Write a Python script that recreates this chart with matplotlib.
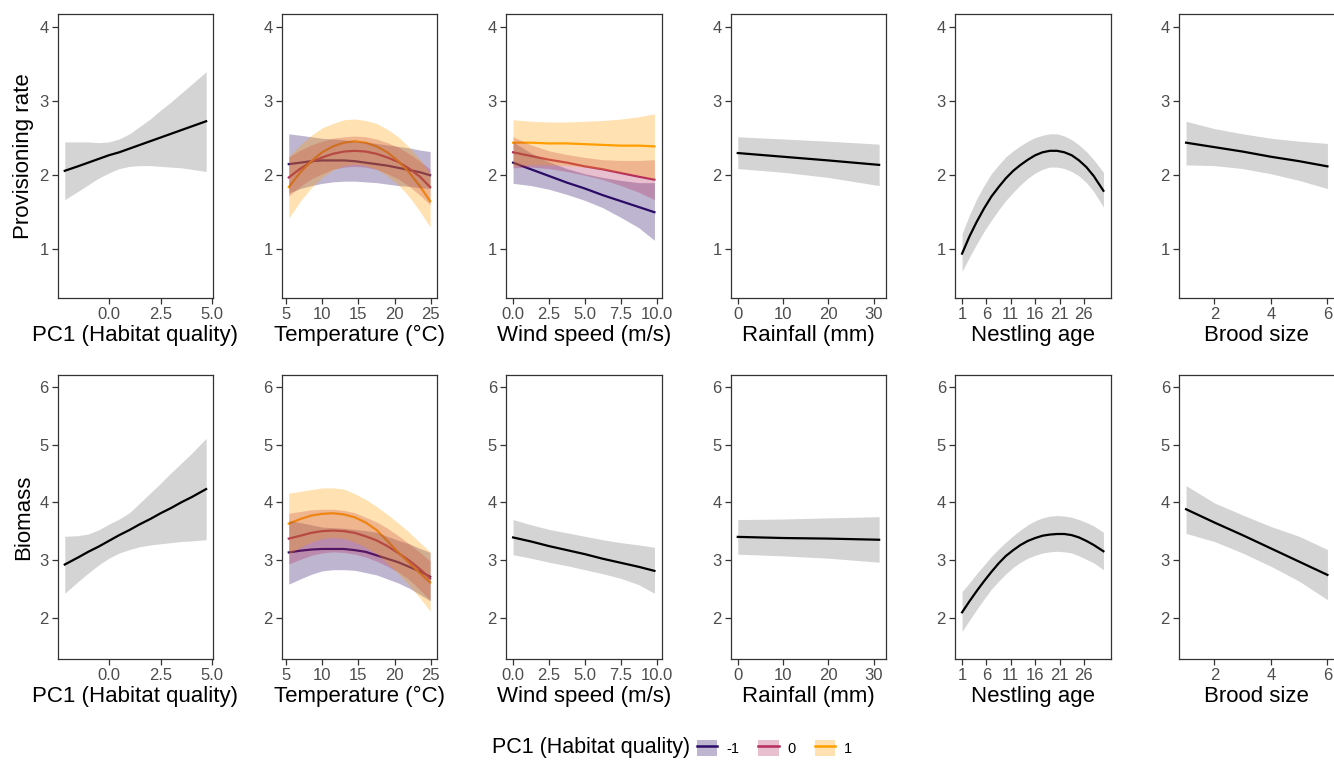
import matplotlib
matplotlib.use('Agg')
import matplotlib.pyplot as plt
from matplotlib.patches import Patch
from matplotlib.lines import Line2D

plt.rcParams['font.family'] = ['Liberation Sans', 'DejaVu Sans']

# ---------------- data ----------------
# x values per predictor
pc1_x = [-2.13, -1.5, -1.0, -0.5, 0.0, 0.5, 1.0, 1.5, 2.0, 2.5, 3.0, 3.5, 4.0, 4.70]
temp_x = [5.4, 7, 8.5, 10, 11.5, 13, 14.5, 16, 17.5, 19, 20.5, 22, 23.5, 24.9]
wind_x = [0.0, 1.25, 2.5, 3.75, 5.0, 6.25, 7.5, 8.75, 9.84]
rain_x = [0, 10, 20, 31.2]
age_x = [1, 2.5, 4, 5.5, 7, 8.5, 10, 11.5, 13, 14.5, 16, 17.5, 19, 20.5, 22, 23.5, 25, 26.5, 28, 30]
brood_x = [1, 2, 3, 4, 5, 6]

# provisioning rate
prov_pc1_fit = [2.06, 2.12, 2.17, 2.22, 2.27, 2.31, 2.36, 2.41, 2.46, 2.51, 2.56, 2.61, 2.66, 2.73]
prov_pc1_lo = [1.67, 1.78, 1.87, 1.96, 2.03, 2.09, 2.12, 2.13, 2.13, 2.12, 2.11, 2.10, 2.08, 2.05]
prov_pc1_hi = [2.45, 2.45, 2.45, 2.44, 2.45, 2.49, 2.56, 2.66, 2.76, 2.88, 2.99, 3.11, 3.23, 3.40]

prov_temp_fit_m1 = [2.15, 2.17, 2.19, 2.20, 2.20, 2.20, 2.19, 2.17, 2.15, 2.13, 2.10, 2.07, 2.04, 2.00]
prov_temp_lo_m1 = [1.76, 1.82, 1.86, 1.89, 1.91, 1.92, 1.92, 1.91, 1.90, 1.88, 1.86, 1.85, 1.83, 1.82]
prov_temp_hi_m1 = [2.56, 2.54, 2.52, 2.50, 2.49, 2.48, 2.46, 2.45, 2.43, 2.41, 2.39, 2.37, 2.34, 2.32]
prov_temp_fit_0 = [1.97, 2.09, 2.18, 2.24, 2.29, 2.32, 2.33, 2.32, 2.29, 2.24, 2.18, 2.09, 1.98, 1.84]
prov_temp_lo_0 = [1.72, 1.85, 1.95, 2.02, 2.08, 2.11, 2.12, 2.11, 2.08, 2.02, 1.95, 1.85, 1.73, 1.60]
prov_temp_hi_0 = [2.25, 2.34, 2.41, 2.46, 2.50, 2.52, 2.53, 2.52, 2.49, 2.44, 2.38, 2.29, 2.19, 2.08]
prov_temp_fit_p1 = [1.84, 2.04, 2.19, 2.31, 2.39, 2.44, 2.46, 2.44, 2.39, 2.31, 2.19, 2.04, 1.85, 1.65]
prov_temp_lo_p1 = [1.42, 1.65, 1.83, 1.97, 2.07, 2.13, 2.15, 2.13, 2.08, 1.99, 1.87, 1.71, 1.51, 1.30]
prov_temp_hi_p1 = [2.25, 2.41, 2.54, 2.64, 2.70, 2.75, 2.76, 2.74, 2.70, 2.62, 2.52, 2.38, 2.21, 2.02]

prov_wind_fit_m1 = [2.17, 2.08, 1.99, 1.90, 1.82, 1.73, 1.65, 1.57, 1.50]
prov_wind_lo_m1 = [1.89, 1.86, 1.81, 1.74, 1.66, 1.56, 1.43, 1.29, 1.12]
prov_wind_hi_m1 = [2.45, 2.30, 2.18, 2.09, 2.02, 1.97, 1.93, 1.90, 1.90]
prov_wind_fit_0 = [2.31, 2.26, 2.21, 2.17, 2.12, 2.08, 2.03, 1.98, 1.94]
prov_wind_lo_0 = [2.10, 2.11, 2.09, 2.05, 2.00, 1.94, 1.86, 1.77, 1.67]
prov_wind_hi_0 = [2.52, 2.41, 2.33, 2.28, 2.24, 2.21, 2.20, 2.20, 2.21]
prov_wind_fit_p1 = [2.44, 2.44, 2.43, 2.43, 2.42, 2.41, 2.40, 2.40, 2.39]
prov_wind_lo_p1 = [2.13, 2.14, 2.14, 2.13, 2.11, 2.08, 2.04, 2.00, 1.95]
prov_wind_hi_p1 = [2.75, 2.73, 2.72, 2.72, 2.73, 2.74, 2.76, 2.79, 2.83]

prov_rain_fit = [2.30, 2.25, 2.20, 2.14]
prov_rain_lo = [2.09, 2.04, 1.97, 1.86]
prov_rain_hi = [2.52, 2.49, 2.46, 2.42]

prov_age_fit = [0.94, 1.17, 1.37, 1.55, 1.71, 1.84, 1.96, 2.06, 2.14, 2.21,
                2.27, 2.31, 2.33, 2.33, 2.31, 2.27, 2.20, 2.11, 1.99, 1.79]
prov_age_lo = [0.70, 0.89, 1.07, 1.24, 1.39, 1.53, 1.66, 1.77, 1.87, 1.96,
               2.03, 2.08, 2.11, 2.11, 2.09, 2.05, 1.99, 1.90, 1.78, 1.57]
prov_age_hi = [1.21, 1.46, 1.68, 1.86, 2.02, 2.14, 2.25, 2.33, 2.40, 2.46,
               2.51, 2.54, 2.56, 2.56, 2.53, 2.48, 2.41, 2.32, 2.21, 2.04]

prov_brood_fit = [2.44, 2.38, 2.32, 2.25, 2.19, 2.12]
prov_brood_lo = [2.14, 2.13, 2.09, 2.02, 1.93, 1.82]
prov_brood_hi = [2.73, 2.63, 2.56, 2.50, 2.46, 2.43]

# biomass
bio_pc1_fit = [2.92, 3.04, 3.14, 3.23, 3.33, 3.43, 3.52, 3.62, 3.71, 3.81, 3.90, 4.00, 4.09, 4.23]
bio_pc1_lo = [2.42, 2.62, 2.77, 2.91, 3.03, 3.12, 3.18, 3.23, 3.26, 3.28, 3.30, 3.32, 3.33, 3.35]
bio_pc1_hi = [3.41, 3.42, 3.45, 3.52, 3.62, 3.71, 3.82, 3.99, 4.16, 4.33, 4.51, 4.68, 4.85, 5.11]

bio_temp_fit_m1 = [3.13, 3.16, 3.18, 3.19, 3.19, 3.19, 3.17, 3.14, 3.08, 3.02, 2.96, 2.88, 2.80, 2.71]
bio_temp_lo_m1 = [2.58, 2.67, 2.75, 2.81, 2.83, 2.83, 2.82, 2.78, 2.74, 2.67, 2.60, 2.51, 2.40, 2.29]
bio_temp_hi_m1 = [3.68, 3.65, 3.61, 3.57, 3.56, 3.55, 3.53, 3.51, 3.48, 3.41, 3.34, 3.28, 3.20, 3.13]
bio_temp_fit_0 = [3.37, 3.42, 3.47, 3.50, 3.51, 3.50, 3.47, 3.41, 3.34, 3.24, 3.12, 2.99, 2.84, 2.68]
bio_temp_lo_0 = [2.93, 3.01, 3.08, 3.12, 3.14, 3.13, 3.10, 3.05, 2.98, 2.89, 2.79, 2.66, 2.48, 2.30]
bio_temp_hi_0 = [3.81, 3.84, 3.87, 3.88, 3.88, 3.86, 3.82, 3.74, 3.66, 3.55, 3.42, 3.28, 3.13, 2.98]
bio_temp_fit_p1 = [3.63, 3.71, 3.77, 3.80, 3.81, 3.79, 3.74, 3.65, 3.52, 3.33, 3.13, 2.95, 2.77, 2.61]
bio_temp_lo_p1 = [3.10, 3.22, 3.31, 3.37, 3.39, 3.37, 3.31, 3.22, 3.11, 2.94, 2.76, 2.56, 2.34, 2.11]
bio_temp_hi_p1 = [4.16, 4.19, 4.22, 4.25, 4.25, 4.23, 4.15, 4.05, 3.93, 3.79, 3.64, 3.48, 3.30, 3.14]

bio_wind_fit = [3.39, 3.32, 3.24, 3.17, 3.10, 3.02, 2.95, 2.88, 2.81]
bio_wind_lo = [3.09, 3.03, 2.96, 2.90, 2.83, 2.76, 2.68, 2.57, 2.42]
bio_wind_hi = [3.70, 3.61, 3.53, 3.47, 3.41, 3.35, 3.30, 3.26, 3.22]

bio_rain_fit = [3.40, 3.38, 3.37, 3.35]
bio_rain_lo = [3.10, 3.07, 3.03, 2.96]
bio_rain_hi = [3.70, 3.71, 3.73, 3.75]

bio_age_fit = [2.09, 2.28, 2.46, 2.63, 2.79, 2.94, 3.07, 3.17, 3.26, 3.33,
               3.38, 3.42, 3.44, 3.45, 3.45, 3.43, 3.39, 3.33, 3.26, 3.15]
bio_age_lo = [1.76, 1.95, 2.14, 2.32, 2.49, 2.63, 2.76, 2.87, 2.96, 3.03,
              3.08, 3.12, 3.14, 3.15, 3.14, 3.12, 3.07, 3.01, 2.95, 2.83]
bio_age_hi = [2.45, 2.60, 2.76, 2.91, 3.06, 3.19, 3.31, 3.42, 3.52, 3.61,
              3.68, 3.73, 3.76, 3.77, 3.76, 3.74, 3.70, 3.65, 3.59, 3.48]

bio_brood_fit = [3.88, 3.65, 3.43, 3.20, 2.97, 2.74]
bio_brood_lo = [3.46, 3.32, 3.12, 2.89, 2.63, 2.31]
bio_brood_hi = [4.29, 3.99, 3.78, 3.58, 3.41, 3.18]

pc1_levels = ['-1', '0', '1']
x_titles = ['PC1 (Habitat quality)', 'Temperature (°C)', 'Wind speed (m/s)',
            'Rainfall (mm)', 'Nestling age', 'Brood size']
y_titles = ['Provisioning rate', 'Biomass']
x_ticks = [[0.0, 2.5, 5.0], [5, 10, 15, 20, 25], [0.0, 2.5, 5.0, 7.5, 10.0],
           [0, 10, 20, 30], [1, 6, 11, 16, 21, 26], [2, 4, 6]]
x_ticklabels = [['0.0', '2.5', '5.0'], ['5', '10', '15', '20', '25'],
                ['0.0', '2.5', '5.0', '7.5', '10.0'], ['0', '10', '20', '30'],
                ['1', '6', '11', '16', '21', '26'], ['2', '4', '6']]

# ---------------- style ----------------
group_colors = ['#2A0C66', '#B62D5F', '#FF9E00']
band_grey = '#D4D4D4'
frame_col = '#333333'
W, H = 1334, 763


def draw_grey(ax, x, fit, lo, hi):
    # 单一预测曲线 + 灰色置信带
    ax.fill_between(x, lo, hi, color=band_grey, lw=0, zorder=1)
    ax.plot(x, fit, color='black', lw=1.6, zorder=2)


def draw_groups(ax, x, fits, los, his):
    # 按 PC1 分组：先画线，再叠加半透明置信带
    for fit, c in zip(fits, group_colors):
        ax.plot(x, fit, color=c, lw=1.6, zorder=2)
    for lo, hi, c in zip(los, his, group_colors):
        ax.fill_between(x, lo, hi, color=c, alpha=0.3, lw=0, zorder=3)


fig = plt.figure(figsize=(W / 100, H / 100), dpi=100)

lefts = [57.7, 281.7, 506.0, 730.7, 955.0, 1179.0]
ax_w = 155.5
row_tops = [14, 375]
ax_h = 284

axes = [[None] * 6 for _ in range(2)]
for r in range(2):
    for c in range(6):
        ax = fig.add_axes([lefts[c] / W, 1 - (row_tops[r] + ax_h) / H, ax_w / W, ax_h / H])
        axes[r][c] = ax

# row 1: provisioning rate
draw_grey(axes[0][0], pc1_x, prov_pc1_fit, prov_pc1_lo, prov_pc1_hi)
draw_groups(axes[0][1], temp_x,
            [prov_temp_fit_m1, prov_temp_fit_0, prov_temp_fit_p1],
            [prov_temp_lo_m1, prov_temp_lo_0, prov_temp_lo_p1],
            [prov_temp_hi_m1, prov_temp_hi_0, prov_temp_hi_p1])
draw_groups(axes[0][2], wind_x,
            [prov_wind_fit_m1, prov_wind_fit_0, prov_wind_fit_p1],
            [prov_wind_lo_m1, prov_wind_lo_0, prov_wind_lo_p1],
            [prov_wind_hi_m1, prov_wind_hi_0, prov_wind_hi_p1])
draw_grey(axes[0][3], rain_x, prov_rain_fit, prov_rain_lo, prov_rain_hi)
draw_grey(axes[0][4], age_x, prov_age_fit, prov_age_lo, prov_age_hi)
draw_grey(axes[0][5], brood_x, prov_brood_fit, prov_brood_lo, prov_brood_hi)

# row 2: biomass
draw_grey(axes[1][0], pc1_x, bio_pc1_fit, bio_pc1_lo, bio_pc1_hi)
draw_groups(axes[1][1], temp_x,
            [bio_temp_fit_m1, bio_temp_fit_0, bio_temp_fit_p1],
            [bio_temp_lo_m1, bio_temp_lo_0, bio_temp_lo_p1],
            [bio_temp_hi_m1, bio_temp_hi_0, bio_temp_hi_p1])
draw_grey(axes[1][2], wind_x, bio_wind_fit, bio_wind_lo, bio_wind_hi)
draw_grey(axes[1][3], rain_x, bio_rain_fit, bio_rain_lo, bio_rain_hi)
draw_grey(axes[1][4], age_x, bio_age_fit, bio_age_lo, bio_age_hi)
draw_grey(axes[1][5], brood_x, bio_brood_fit, bio_brood_lo, bio_brood_hi)

row_ylims = [(0.34, 4.18), (1.28, 6.21)]
row_yticks = [[1, 2, 3, 4], [2, 3, 4, 5, 6]]

for r in range(2):
    for c in range(6):
        ax = axes[r][c]
        ax.margins(x=0.05)
        ax.set_ylim(*row_ylims[r])
        ax.set_yticks(row_yticks[r])
        ax.set_xticks(x_ticks[c])
        ax.set_xticklabels(x_ticklabels[c])
        for sp in ax.spines.values():
            sp.set_color(frame_col)
            sp.set_linewidth(0.9)
        ax.tick_params(direction='out', length=4, width=0.9, color=frame_col,
                       labelsize=12, labelcolor='#4D4D4D', pad=2.5)
        ax.set_xlabel(x_titles[c], fontsize=16, labelpad=2)
        if c == 0:
            ax.set_ylabel(y_titles[r], fontsize=16, labelpad=4)

# legend at bottom
fig.text(690 / W, 1 - 748 / H, 'PC1 (Habitat quality)', fontsize=15.5,
         ha='right', va='center')
handles = [(Patch(facecolor=c, alpha=0.3, lw=0), Line2D([], [], color=c, lw=1.8))
           for c in group_colors]
fig.legend(handles, pc1_levels, loc='center left', bbox_to_anchor=(697 / W, 1 - 748 / H),
           ncol=3, frameon=False, fontsize=10.5, handlelength=1.4, handleheight=1.4,
           handletextpad=0.6, columnspacing=1.3, borderpad=0, borderaxespad=0)

plt.savefig('out.png', dpi=100, facecolor='white')
plt.close()
